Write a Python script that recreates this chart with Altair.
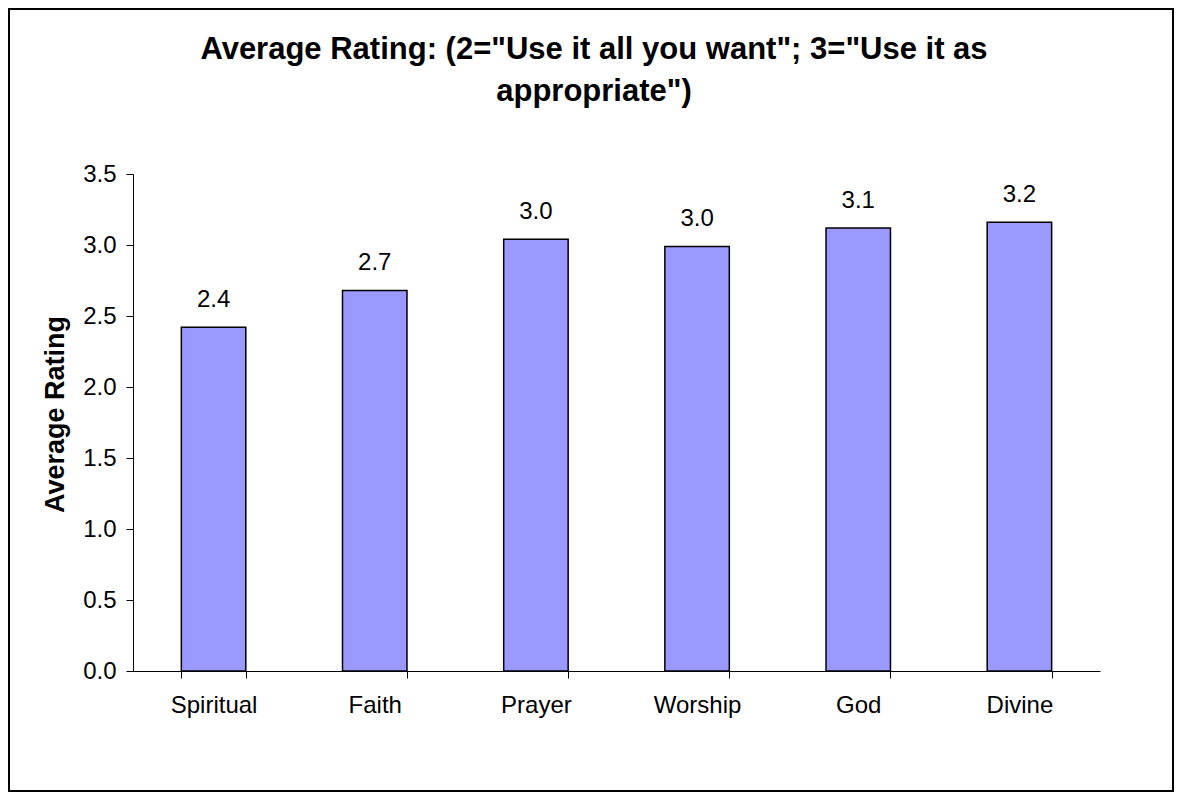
import altair as alt
import pandas as pd

categories = ["Spiritual", "Faith", "Prayer", "Worship", "God", "Divine"]
ratings = [2.42, 2.68, 3.04, 2.99, 3.12, 3.16]
y_ticks = [0.0, 0.5, 1.0, 1.5, 2.0, 2.5, 3.0, 3.5]
title_lines = ['Average Rating: (2="Use it all you want"; 3="Use it as', 'appropriate")']
y_title = "Average Rating"

df = pd.DataFrame({"category": categories, "rating": ratings})
FONT = "Liberation Sans"

x_enc = alt.X(
    "category:N",
    sort=categories,
    title=None,
    scale=alt.Scale(paddingInner=0.6, paddingOuter=0.3),
    axis=alt.Axis(
        labelAngle=0, labelFontSize=24, labelFont=FONT, labelColor="black",
        labelPadding=15, tickBand="extent", tickSize=7, tickColor="black",
        domainColor="black", tickWidth=1, domainWidth=1, grid=False,
    ),
)
y_enc = alt.Y(
    "rating:Q",
    title=y_title,
    scale=alt.Scale(domain=[0, 3.5], nice=False),
    axis=alt.Axis(
        values=y_ticks, format=".1f", labelFontSize=24, labelFont=FONT,
        labelColor="black", labelPadding=10, tickSize=7, tickColor="black",
        domainColor="black", grid=False, titleFontSize=27, titleFont=FONT,
        titleFontWeight="bold", titleColor="black", titlePadding=13, titleY=240,
    ),
)

base = alt.Chart(df)
bars = base.mark_bar(color="#9999FF", stroke="black", strokeWidth=1.5).encode(x=x_enc, y=y_enc)
labels = base.mark_text(
    fontSize=24, font=FONT, color="black", baseline="alphabetic", dy=-20
).encode(
    x=alt.X("category:N", sort=categories),
    y="rating:Q",
    text=alt.Text("rating:Q", format=".1f"),
)
one_row = alt.Data(values=[{"a": 1}])
border = alt.Chart(one_row).mark_rect(
    fill=None, stroke="black", strokeWidth=2
).encode(
    x=alt.value(-124), x2=alt.value(1040),
    y=alt.value(-165), y2=alt.value(617),
)
title = alt.Chart(one_row).mark_text(
    text=title_lines, fontSize=31, font=FONT, fontWeight="bold", color="black",
    lineHeight=42, align="center", baseline="alphabetic",
).encode(x=alt.value(461), y=alt.value(-115))

chart = alt.layer(bars, labels, border, title).properties(
    width=967,
    height=497,
    autosize=alt.AutoSizeParams(type="none"),
    padding={"left": 125, "top": 166, "right": 74, "bottom": 121},
).configure_view(stroke=None)

chart.save("out.html", embed_options={"renderer": "svg", "actions": False})
